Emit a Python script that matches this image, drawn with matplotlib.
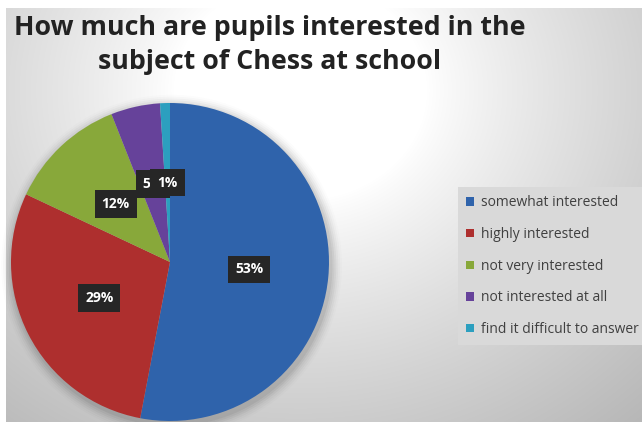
import numpy as np
import matplotlib
matplotlib.use("Agg")
import matplotlib.pyplot as plt
from matplotlib.patches import Circle

title = "How much are pupils interested in the\nsubject of Chess at school"
categories = ["somewhat interested", "highly interested", "not very interested",
              "not interested at all", "find it difficult to answer"]
values = [53, 29, 12, 5, 1]
colors = ["#2F63AB", "#AE2F2E", "#88A83A", "#66429A", "#2C9FBF"]

W, H = 642, 422
fig = plt.figure(figsize=(W / 100, H / 100), dpi=100)
fig.patch.set_facecolor("white")

# gradient background (chart area starts at x=6, y=8)
bg = fig.add_axes([6 / W, 0, (W - 6) / W, (H - 8) / H])
bg.set_axis_off()
yy, xx = np.mgrid[8:H, 6:W]
d = np.hypot((xx - 300) / 1.15, (yy - 90) / 1.0)
t = np.clip((d - 110) / 360, 0, 1)
g = 1.0 - t ** 0.85 * (1 - 0.70)
img = np.dstack([g, g, g])
bg.imshow(img, aspect="auto", extent=[0, 1, 0, 1], origin="upper")
bg.set_xlim(0, 1)
bg.set_ylim(0, 1)

# pie
cx, cy, r = 170, 262, 159
ax = fig.add_axes([(cx - r) / W, (H - cy - r) / H, 2 * r / W, 2 * r / H])
ax.set_axis_off()
for i, a in enumerate(np.linspace(0.05, 0.01, 6)):
    ax.add_patch(Circle((0.01, -0.02), 1.0 + 0.012 * (i + 1), color="black",
                        alpha=a, lw=0, zorder=0, clip_on=False))
wedges, texts, autotexts = ax.pie(
    values, colors=colors, startangle=90, counterclock=False,
    autopct=lambda p: "%d%%" % round(p), pctdistance=0.5, radius=1.0,
    wedgeprops=dict(linewidth=0),
    textprops=dict(color="white", fontsize=10, fontweight="bold", family="Open Sans"),
)
ax.set_xlim(-1, 1)
ax.set_ylim(-1, 1)
for at in autotexts:
    at.set_bbox(dict(boxstyle="square,pad=0.5", facecolor="#262626", edgecolor="none"))
    at.set_clip_on(False)
for w in wedges:
    w.set_clip_on(False)

# title
fig.text(270 / W, 1 - 45 / H, title, ha="center", va="center", fontsize=19.3,
         fontweight="bold", family="Open Sans", color="#222222", linespacing=1.42)

# legend
leg = fig.legend(wedges, categories, loc="upper left",
                 bbox_to_anchor=(458 / W, 1 - 187 / H),
                 frameon=True, fancybox=False, facecolor="#d9d9d9", edgecolor="none",
                 framealpha=1.0, handlelength=0.55, handleheight=0.55, handletextpad=0.5,
                 labelspacing=1.2, borderpad=0.6, borderaxespad=0,
                 prop=dict(family="Open Sans", size=10))
for txt in leg.get_texts():
    txt.set_color("#404040")

fig.savefig("out.png", dpi=100)
